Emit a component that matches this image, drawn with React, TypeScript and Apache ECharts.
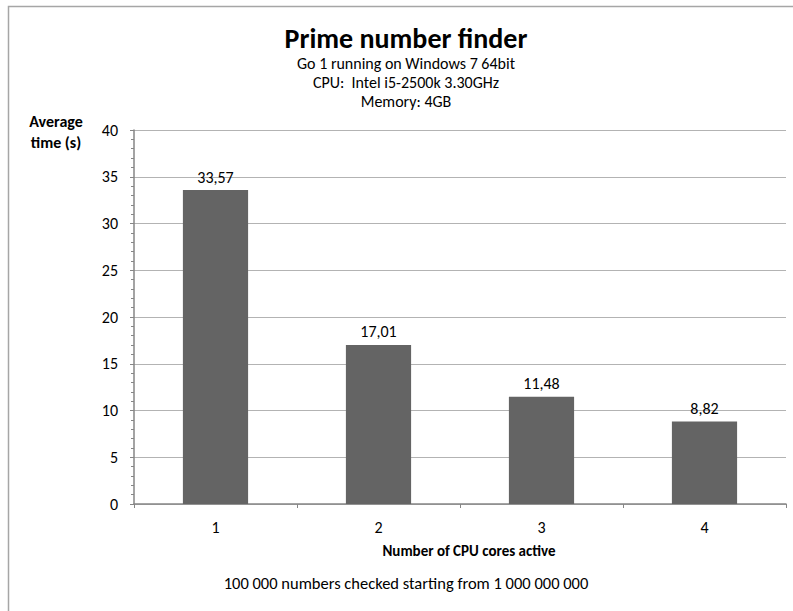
import React, { useEffect, useRef } from "react";
import * as echarts from "echarts";

const categories = ["1", "2", "3", "4"];
const avgTimes = [33.57, 17.01, 11.48, 8.82];
const titleText = "Prime number finder";
const subtitleLines = ["Go 1 running on Windows 7 64bit", "CPU:  Intel i5-2500k 3.30GHz", "Memory: 4GB"];
const yAxisName = "Average\ntime (s)";
const xAxisName = "Number of CPU cores active";
const footnote = "100 000 numbers checked starting from 1 000 000 000";

const FONT = "Carlito, Lato, 'Liberation Sans', sans-serif";

export default function App() {
  const ref = useRef<HTMLDivElement>(null);
  useEffect(() => {
    if (!ref.current) return;
    const chart = echarts.init(ref.current, undefined, { renderer: "svg" });
    chart.setOption({
      animation: false,
      backgroundColor: "#ffffff",
      textStyle: { fontFamily: FONT },
      graphic: [
        {
          type: "rect",
          shape: { x: 8.5, y: 6.5, width: 900, height: 800 },
          style: { fill: "none", stroke: "#a6a6a6", lineWidth: 1.5 },
          silent: true,
        },
        {
          type: "text",
          x: 406,
          y: 38,
          style: {
            text: titleText,
            fontSize: 28,
            fontWeight: "bold",
            fill: "#000",
            fontFamily: FONT,
            align: "center",
            verticalAlign: "middle",
          },
        },
        {
          type: "text",
          x: 406,
          y: 54,
          style: {
            text: subtitleLines.join("\n"),
            fontSize: 16,
            fill: "#000",
            fontFamily: FONT,
            align: "center",
            verticalAlign: "top",
            lineHeight: 19,
          },
        },
        {
          type: "text",
          x: 406,
          y: 583,
          style: {
            text: footnote,
            fontSize: 16.5,
            fill: "#000",
            fontFamily: FONT,
            align: "center",
            verticalAlign: "middle",
          },
        },
        {
          type: "text",
          x: 469,
          y: 551,
          style: {
            text: xAxisName,
            fontSize: 15,
            fontWeight: "bold",
            fill: "#000",
            fontFamily: FONT,
            align: "center",
            verticalAlign: "middle",
          },
        },
        {
          type: "text",
          x: 56,
          y: 111,
          style: {
            text: yAxisName,
            fontSize: 16,
            fontWeight: "bold",
            fill: "#000",
            fontFamily: FONT,
            align: "center",
            verticalAlign: "top",
            lineHeight: 21,
          },
        },
      ],
      grid: { left: 134, right: 7, top: 130, bottom: 107 },
      xAxis: {
        type: "category",
        data: categories,
        axisLine: { lineStyle: { color: "#868686", width: 1.5 } },
        axisTick: { show: true, length: 4, lineStyle: { color: "#868686" } },
        axisLabel: { fontSize: 16, color: "#000", margin: 15, fontFamily: FONT },
      },
      yAxis: {
        type: "value",
        min: 0,
        max: 40,
        interval: 5,
        axisLine: { show: true, lineStyle: { color: "#868686", width: 1.5 } },
        axisTick: { show: true, length: 4, lineStyle: { color: "#868686" } },
        minorTick: { show: true, splitNumber: 5, length: 3, lineStyle: { color: "#868686" } },
        splitLine: { show: true, lineStyle: { color: "#b3b3b3", width: 1 } },
        axisLabel: { fontSize: 16, color: "#000", margin: 16, fontFamily: FONT },
      },
      series: [
        {
          type: "bar",
          data: avgTimes,
          barWidth: "40%",
          itemStyle: { color: "#646464" },
          label: {
            show: true,
            position: "top",
            distance: 5,
            fontSize: 16,
            color: "#000",
            fontFamily: FONT,
            formatter: (p: any) => String(p.value).replace(".", ","),
          },
        },
      ],
    });
    return () => chart.dispose();
  }, []);
  return (
    <div
      ref={ref}
      style={{ position: "absolute", left: 0, top: 0, width: 793, height: 611 }}
    />
  );
}
